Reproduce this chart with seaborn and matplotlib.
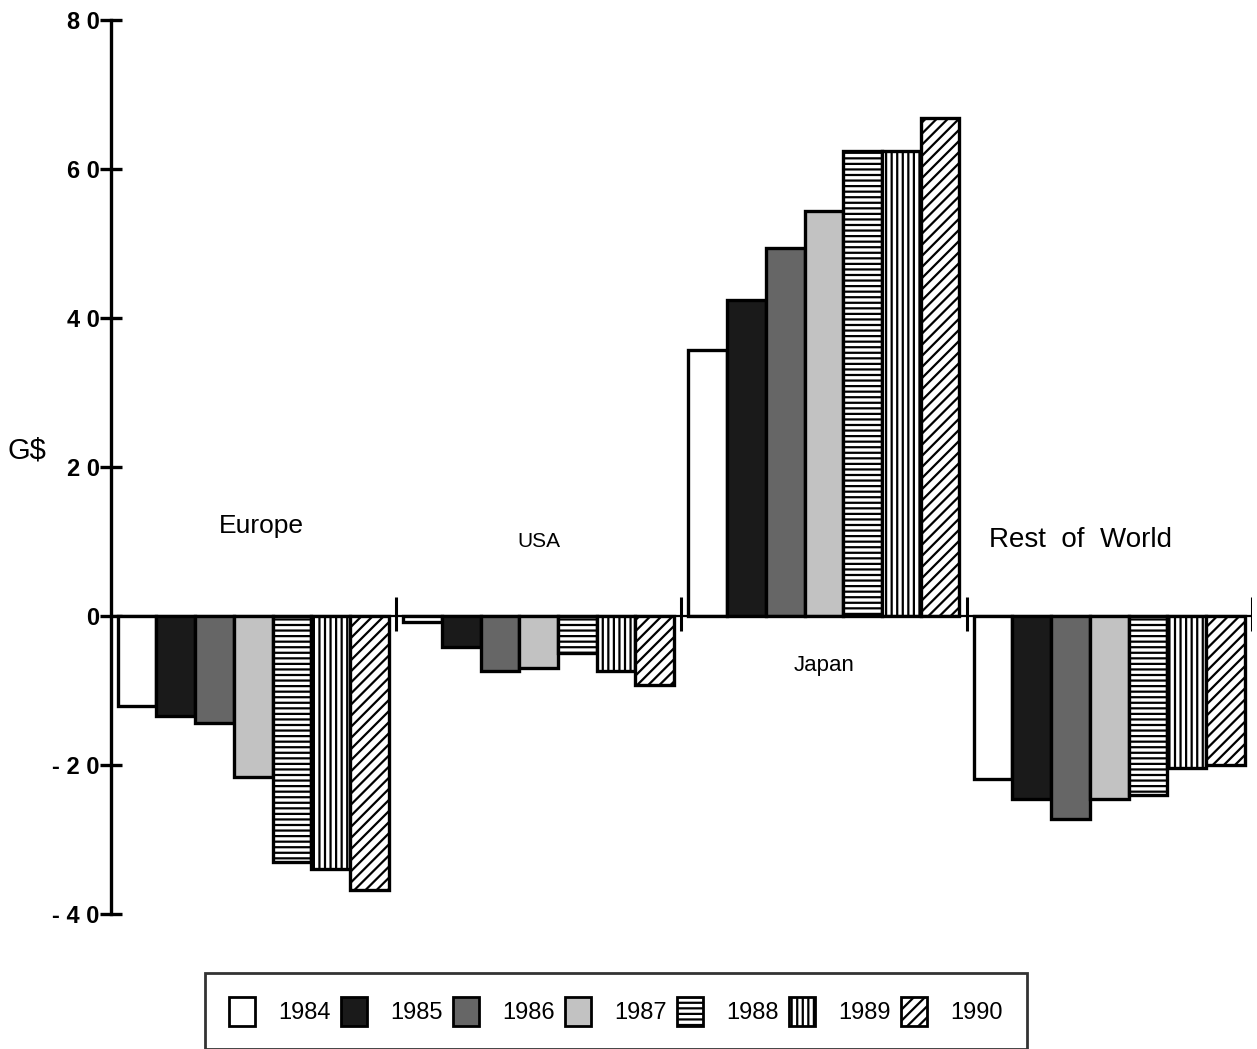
import matplotlib
matplotlib.use("Agg")
import matplotlib.pyplot as plt
import seaborn as sns
import pandas as pd

regions = ["Europe", "USA", "Japan", "Rest of World"]
years = ["1984", "1985", "1986", "1987", "1988", "1989", "1990"]
europe = [-12.1, -13.4, -14.4, -21.6, -33.0, -34.0, -36.8]
usa = [-0.9, -4.2, -7.4, -7.0, -5.0, -7.4, -9.3]
japan = [35.7, 42.4, 49.4, 54.4, 62.4, 62.4, 66.8]
rest_of_world = [-21.9, -24.6, -27.3, -24.6, -24.0, -20.4, -20.1]
y_ticks = [-40, -20, 0, 20, 40, 60, 80]
y_tick_labels = ["- 4 0", "- 2 0", "0", "2 0", "4 0", "6 0", "8 0"]

series = {"Europe": europe, "USA": usa, "Japan": japan, "Rest of World": rest_of_world}
rows = []
for r in regions:
    for y, v in zip(years, series[r]):
        rows.append({"region": r, "year": y, "value": v})
df = pd.DataFrame(rows)

sns.set_style("white")
plt.rcParams["font.family"] = ["Liberation Sans", "DejaVu Sans"]
plt.rcParams["hatch.linewidth"] = 1.6
plt.rcParams["text.color"] = "black"
plt.rcParams["axes.labelcolor"] = "black"
plt.rcParams["xtick.color"] = "black"
plt.rcParams["ytick.color"] = "black"

facecolors = ["white", "#1a1a1a", "#666666", "#c2c2c2", "white", "white", "white"]
hatches = ["", "", "", "", "---", "|||", "///"]

fig = plt.figure(figsize=(12.57, 10.49), dpi=100)
ax = fig.add_axes([0.088, 0.129, 0.908, 0.852])

sns.barplot(data=df, x="region", y="value", hue="year", order=regions, hue_order=years,
            palette=facecolors, edgecolor="black", linewidth=2.4, width=0.95,
            saturation=1, ax=ax)

for cont, h, fc in zip(ax.containers, hatches, facecolors):
    for p in cont:
        p.set_hatch(h)
        p.set_facecolor(fc)
        p.set_edgecolor("black")

handles, labels = ax.get_legend_handles_labels()
for hd, h, fc in zip(handles, hatches, facecolors):
    hd.set_hatch(h)
    hd.set_facecolor(fc)
    hd.set_edgecolor("black")
    hd.set_linewidth(2)
if ax.get_legend() is not None:
    ax.get_legend().remove()

ax.set_xlim(-0.5, 3.5)
ax.set_ylim(-40, 80)
ax.axhline(0, color="black", lw=1.6, zorder=5)
ax.vlines([0.5, 1.5, 2.5, 3.5], -2.0, 2.5, color="black", lw=2.2, zorder=5)

for s in ["top", "right", "bottom"]:
    ax.spines[s].set_visible(False)
ax.spines["left"].set_linewidth(2.4)
ax.spines["left"].set_color("black")
ax.set_xticks([])
ax.set_xlabel("")
ax.set_yticks(y_ticks)
ax.set_yticklabels(y_tick_labels, fontsize=17, fontweight="bold")
ax.tick_params(axis="y", direction="inout", length=16, width=2.4, pad=0, left=True)
ax.set_ylabel("G$", fontsize=21, rotation=0, va="center", ha="center")
ax.yaxis.set_label_coords(-0.073, 0.518)

ax.text(0.03, 12.1, "Europe", fontsize=19, ha="center", va="center")
ax.text(1, 10.0, "USA", fontsize=15, ha="center", va="center")
ax.text(2, -6.7, "Japan", fontsize=16, ha="center", va="center")
ax.text(2.9, 10.2, "Rest  of  World", fontsize=20, ha="center", va="center")

leg = fig.legend(handles, labels, loc="center", bbox_to_anchor=(0.49, 0.036), ncol=7,
                 fontsize=17, frameon=True, fancybox=False, edgecolor="black",
                 handlelength=1.1, handleheight=1.5, handletextpad=1.0,
                 columnspacing=0.42, borderpad=1.0)
leg.get_frame().set_linewidth(2)

fig.savefig("out.png", dpi=100)
